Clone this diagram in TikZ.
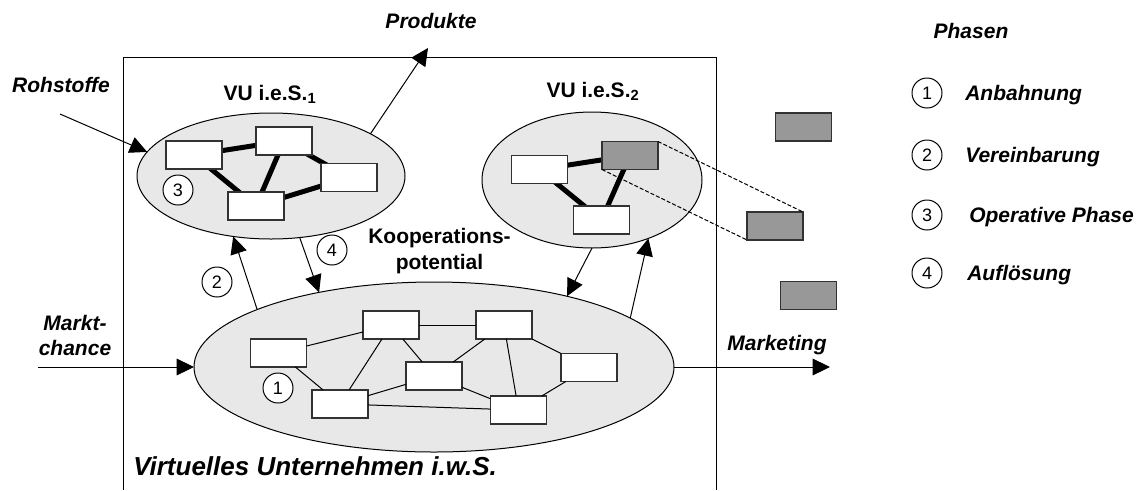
\documentclass[tikz,border=0pt]{standalone}
\usepackage{fontspec}
\setmainfont{Liberation Sans}
\usetikzlibrary{arrows.meta,shapes.geometric}
\definecolor{ellfill}{RGB}{232,232,232}
\definecolor{firmgray}{RGB}{152,152,152}
\definecolor{boxline}{RGB}{50,50,50}
\pgfdeclarelayer{clusters}
\pgfdeclarelayer{ties}
\pgfsetlayers{clusters,ties,main}

\begin{document}
\begin{tikzpicture}[x=0.75pt,y=-0.75pt,
  lbl/.style={font=\fontsize{15.75}{19.5}\selectfont\bfseries\itshape, inner sep=0},
  ulbl/.style={font=\fontsize{15.75}{19.5}\selectfont\bfseries, inner sep=0},
  cluster/.style={ellipse, draw, fill=ellfill, line width=0.75pt, inner sep=0, outer sep=0},
  firm/.style={draw=boxline, fill=white, line width=1pt, minimum width=42pt, minimum height=21pt, inner sep=0, outer sep=0},
  firmg/.style={firm, fill=firmgray},
  phase/.style={circle, draw, line width=0.75pt, minimum size=22.5pt, inner sep=0, font=\fontsize{13.5}{15}\selectfont},
  tie/.style={line width=3.75pt},
  link/.style={line width=0.75pt},
  flow/.style={line width=0.75pt, -{Triangle[length=13pt,width=12.5pt]}},
  trace/.style={line width=0.75pt, dash pattern=on 3pt off 1.5pt},
]
\useasboundingbox (0,0) rectangle (1146,490);

% outer frame of the wider virtual enterprise (open at the bottom)
\draw[line width=0.75pt] (123,490) |- (716,57) -- (716,490);

% clusters
\begin{pgfonlayer}{clusters}
\node[cluster, minimum width=201pt, minimum height=94.5pt] (vu1) at (271,176) {};
\node[cluster, minimum width=165pt, minimum height=102pt] (vu2) at (592,180) {};
\node[cluster, minimum width=360pt, minimum height=127.5pt] (vuw) at (434,367) {};
\end{pgfonlayer}

% enterprises in VU i.e.S. 1
\node[firm] (a1) at (194,155) {};
\node[firm] (a2) at (284,141) {};
\node[firm] (a3) at (349,177.5) {};
\node[firm] (a4) at (256,206) {};

% enterprises in VU i.e.S. 2
\node[firm] (c1) at (539.5,169.5) {};
\node[firmg] (c2) at (630,155.5) {};
\node[firm] (c3) at (601.5,220) {};

% strong ties, drawn behind the boxes
\begin{pgfonlayer}{ties}
\draw[tie] (a1.center) -- (a2.center);
\draw[tie] (a1.center) -- (a4.center);
\draw[tie] (a2.center) -- (a4.center);
\draw[tie] (a2.center) -- (a3.center);
\draw[tie] (a3.center) -- (a4.center);
\draw[tie] (c1.center) -- (c2.center);
\draw[tie] (c1.center) -- (c3.center);
\draw[tie] (c2.center) -- (c3.center);
\end{pgfonlayer}

% external enterprises
\node[firmg] (r1) at (803.5,127) {};
\node[firmg] (r2) at (775,226) {};
\node[firmg] (r3) at (808.5,295.5) {};
\draw[trace] (c2.north east) -- (r2.north east);
\draw[trace] (c2.south west) -- (r2.south west);

% enterprises in the cooperation potential
\node[firm] (ga) at (278.5,353) {};
\node[firm] (gb) at (391,325) {};
\node[firm] (gc) at (340,404) {};
\node[firm] (gd) at (434,376) {};
\node[firm] (ge) at (504,325) {};
\node[firm] (gf) at (589,367.5) {};
\node[firm] (gg) at (518.5,410) {};
\draw[link] (ga) -- (gb);
\draw[link] (ga) -- (gc);
\draw[link] (gb) -- (gc);
\draw[link] (gb) -- (ge);
\draw[link] (gb) -- (gd);
\draw[link] (ge) -- (gd);
\draw[link] (ge) -- (gf);
\draw[link] (ge) -- (gg);
\draw[link] (gf) -- (gg);
\draw[link] (gd) -- (gg);
\draw[link] (gc) -- (gd);
\draw[link] (gc) -- (gg);

% flows
\coordinate (rawin) at (60,114);
\coordinate (prodout) at (428,48);
\coordinate (chancein) at (38,367);
\coordinate (mktout) at (830,367);
\draw[flow] (rawin) -- (vu1.169.1);
\draw[flow] (vu1.23.2) -- (prodout);
\draw[flow] (chancein) -- (vuw.west);
\draw[flow] (vuw.east) -- (mktout);
\draw[flow] (vuw.162) -- (vu1.-122.4);
\draw[flow] (vu1.-65.6) -- (vuw.147.9);
\draw[flow] (vu2.south) -- (vuw.28.8);
\draw[flow] (vuw.14.06) -- (vu2.-46.96);

% phase markers
\node[phase, fill=white] (p3) at (178,190) {3};
\node[phase, fill=white] (p1) at (278,388) {1};
\node[phase] (p2) at (217,282) {2};
\node[phase] (p4) at (332,250) {4};

% labels
\node[lbl, anchor=base] (tprod) at (431,28) {Produkte};
\node[lbl, anchor=base] (traw) at (61,92) {Rohstoffe};
\node[ulbl, anchor=base] (tvu1) at (270,100) {VU i.e.S.\textsubscript{1}};
\node[ulbl, anchor=base] (tvu2) at (593,97) {VU i.e.S.\textsubscript{2}};
\node[ulbl, anchor=base] (tkoop1) at (439.5,243) {Kooperations-};
\node[ulbl, anchor=base] (tkoop2) at (439.5,269) {potential};
\node[lbl, anchor=base] (tmarkt1) at (75,330) {Markt-};
\node[lbl, anchor=base] (tmarkt2) at (75,355) {chance};
\node[lbl, anchor=base] (tmkt) at (777,350) {Marketing};
\node[font=\fontsize{19.5}{23}\selectfont\bfseries\itshape, inner sep=0, anchor=base west] (tvirt) at (133,475) {Virtuelles Unternehmen i.w.S.};

% legend
\node[lbl, anchor=base] (tphasen) at (971,38) {Phasen};
\node[phase] (l1) at (927,93) {1};
\node[phase] (l2) at (927,155) {2};
\node[phase] (l3) at (927,215) {3};
\node[phase] (l4) at (927,273) {4};
\node[lbl, anchor=base west] (ll1) at (965,100) {Anbahnung};
\node[lbl, anchor=base west] (ll2) at (965,162) {Vereinbarung};
\node[lbl, anchor=base west] (ll3) at (969,222) {Operative Phase};
\node[lbl, anchor=base west] (ll4) at (967,280) {Auflösung};
\end{tikzpicture}
\end{document}
